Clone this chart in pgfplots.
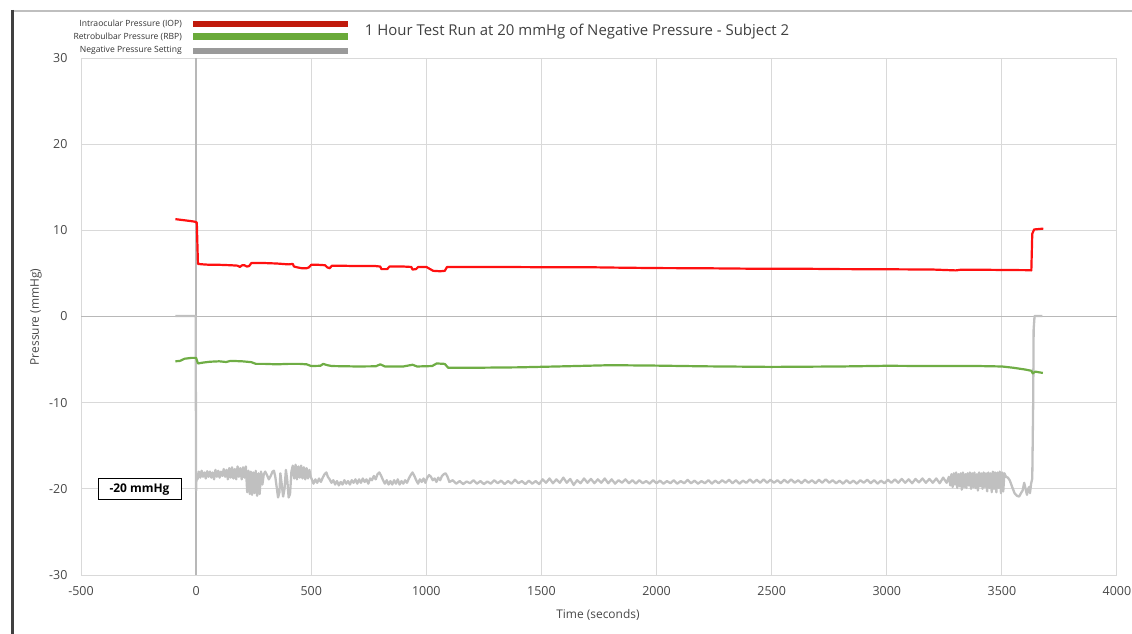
\documentclass[border=0pt]{standalone}
\usepackage{pgfplots}
\pgfplotsset{compat=1.18}
\usepackage{fontspec}
\setmainfont{Open Sans}
\definecolor{iop}{HTML}{FF1010}
\definecolor{rbp}{HTML}{6FAD45}
\definecolor{nps}{HTML}{C0C0C0}
\definecolor{legiop}{HTML}{C01A0C}
\definecolor{legrbp}{HTML}{6AAA3A}
\definecolor{legnps}{HTML}{9A9A9A}
\definecolor{ticktxt}{HTML}{474747}
\begin{document}
\begin{tikzpicture}
\path[use as bounding box] (0,0) rectangle (1132bp,634bp);
\begin{axis}[
  at={(81bp,59bp)}, anchor=south west,
  scale only axis, width=1036bp, height=517bp,
  xmin=-500, xmax=4000, ymin=-30, ymax=30,
  xtick={-500,0,...,4000}, ytick={-30,-20,...,30},
  grid=major, major grid style={draw=black!15, line width=1bp},
  axis line style={draw=none}, major tick length=0pt,
  /pgf/number format/assume math mode=true,
  /pgf/number format/1000 sep={},
  ticklabel style={font=\fontsize{12.5}{14}\selectfont, text=ticktxt},
  xticklabel style={yshift=-8bp},
  yticklabel style={xshift=-10bp},
  xlabel={Time (seconds)}, ylabel={Pressure (mmHg)},
  xlabel style={at={(axis description cs:0.499,-0.0774)}, anchor=center, font=\fontsize{12}{14}\selectfont, text=ticktxt},
  ylabel style={at={(axis description cs:-0.0434,0.499)}, anchor=center, rotate=0, font=\fontsize{12}{14}\selectfont, text=ticktxt},
  clip=false,
]
% axis lines at 0
\addplot[draw=black!28, line width=1.3bp, forget plot] coordinates {(-500,0) (4000,0)};
\addplot[draw=black!28, line width=1.3bp, forget plot] coordinates {(0,-30) (0,30)};
% Negative pressure setting
\addplot[nps, line width=2.3bp, line join=round] coordinates {
(-90,0.05) (-60,0.05) (-30,0.05) (-2,0.05) (0,-20.2) (2,-18.2)
(6,-18.9) (12,-18.0) (18,-18.7) (24,-17.9) (30,-18.6) (36,-18.1) (42,-18.8) (48,-17.95) (54,-18.6) (60,-18.0) (66,-18.7) (72,-18.1) (78,-18.9) (84,-17.8) (90,-18.6) (96,-17.9) (102,-18.7) (108,-18.0) (114,-18.5) (120,-17.7) (126,-18.6) (132,-17.8) (138,-18.9) (144,-17.6) (150,-18.7) (156,-17.5) (162,-18.8) (168,-17.7) (174,-18.9) (180,-17.4) (186,-18.6) (192,-17.6) (198,-18.9) (204,-17.5) (210,-18.7) (216,-17.4)
(222,-20.4) (227,-17.9) (233,-20.6) (238,-18.0) (243,-20.7) (249,-18.1) (254,-20.5) (259,-17.9) (265,-20.8) (271,-18.2) (276,-20.6) (282,-18.0) (288,-19.5) (294,-18.3) (300,-18.0) (308,-18.4) (316,-18.9) (324,-18.5) (332,-18.0) (338,-17.9) (344,-18.6) (350,-19.8) (356,-21.0) (362,-20.4) (366,-18.2) (372,-19.5) (378,-20.9) (384,-20.0) (390,-17.8) (396,-19.0) (402,-21.0) (408,-20.6) (414,-18.0) (420,-17.3) (426,-18.8) (432,-17.2) (438,-18.9) (444,-17.4) (450,-18.7) (456,-17.3) (462,-18.8) (468,-17.5) (474,-18.9) (480,-17.6) (486,-18.8) (492,-17.8) (498,-18.6)
(504,-19.0) (510,-19.4) (518,-18.9) (526,-19.3) (534,-18.8) (542,-19.2) (550,-18.7) (558,-18.3) (566,-18.1) (572,-18.6) (580,-18.9) (588,-19.3) (596,-19.0) (604,-19.5) (612,-19.1) (620,-19.6) (628,-19.2) (636,-19.5) (644,-19.0) (652,-19.4) (660,-19.1) (668,-19.5) (676,-19.0) (684,-19.3) (692,-18.9) (700,-19.4) (708,-18.9) (716,-19.3) (724,-18.8) (732,-19.2) (740,-18.9) (748,-19.4) (756,-18.8) (764,-19.0) (772,-18.5) (780,-18.9) (788,-18.3) (796,-18.1) (804,-18.5) (812,-19.0) (820,-19.4) (828,-19.0) (836,-19.5) (844,-19.1) (852,-19.5) (860,-19.0) (868,-19.4) (876,-18.9) (884,-19.5) (892,-19.1) (900,-19.4) (908,-19.0) (916,-19.3) (924,-18.8) (932,-18.4) (940,-18.1) (948,-18.5) (956,-19.0) (964,-19.4) (972,-18.9) (980,-19.2) (988,-18.8) (996,-19.3) (1004,-18.7) (1012,-18.4) (1020,-18.6) (1028,-19.0) (1036,-18.8) (1044,-19.2) (1052,-18.7) (1060,-19.0) (1068,-18.5) (1076,-18.3) (1084,-18.2) (1092,-18.6) (1100,-19.2)
(1115,-19.0) (1130,-19.4) (1145,-19.1) (1160,-19.45) (1175,-19.15) (1190,-19.35) (1205,-19.0) (1220,-19.4) (1235,-19.1) (1250,-19.45) (1265,-19.15) (1280,-19.4) (1295,-19.0) (1310,-19.35) (1325,-19.05) (1340,-19.45) (1355,-19.1) (1370,-19.4) (1385,-18.95) (1400,-19.35) (1415,-19.1) (1430,-19.45) (1445,-19.05) (1460,-19.4) (1475,-19.1) (1490,-19.45) (1505,-18.9) (1520,-19.3) (1535,-18.8) (1550,-19.35) (1565,-18.9) (1580,-19.3) (1595,-18.7) (1610,-19.3) (1625,-18.85) (1640,-19.55) (1655,-19.0) (1670,-19.35) (1685,-18.8) (1700,-19.3) (1715,-18.85) (1730,-19.35) (1745,-18.9) (1760,-19.3) (1775,-18.8) (1790,-19.35) (1805,-18.9) (1820,-19.4) (1835,-19.0) (1850,-19.3) (1865,-18.9) (1880,-19.35) (1895,-19.0) (1910,-19.4) (1925,-19.0) (1940,-19.35) (1955,-19.1) (1970,-19.4) (1985,-19.0) (2000,-19.35) (2015,-19.05) (2030,-19.4) (2045,-19.1) (2060,-19.35) (2075,-19.0) (2090,-19.4) (2105,-19.1) (2120,-19.35) (2135,-18.95) (2150,-19.35) (2165,-19.05) (2180,-19.4) (2195,-19.1) (2210,-19.35) (2225,-19.0) (2240,-19.4) (2255,-19.05) (2270,-19.35) (2285,-19.0) (2300,-19.3) (2315,-18.95) (2330,-19.35) (2345,-19.0) (2360,-19.4) (2375,-19.05) (2390,-19.3) (2405,-18.9) (2420,-19.3) (2435,-18.95) (2450,-19.3) (2465,-18.9) (2480,-19.3) (2495,-18.95) (2510,-19.3) (2525,-19.0) (2540,-19.35) (2555,-18.95) (2570,-19.3) (2585,-18.9) (2600,-19.3) (2615,-19.0) (2630,-19.35) (2645,-18.95) (2660,-19.3) (2675,-19.0) (2690,-19.35) (2705,-18.95) (2720,-19.3) (2735,-18.9) (2750,-19.3) (2765,-19.0) (2780,-19.35) (2795,-19.05) (2810,-19.4) (2825,-19.0) (2840,-19.35) (2855,-19.05) (2870,-19.4) (2885,-19.0) (2900,-19.3) (2915,-18.95) (2930,-19.35) (2945,-19.0) (2960,-19.4) (2975,-19.05) (2990,-19.35) (3005,-18.95) (3020,-19.3) (3035,-18.9) (3050,-19.3) (3065,-18.85) (3080,-19.3) (3095,-18.9) (3110,-19.35) (3125,-18.85) (3140,-19.25) (3155,-18.8) (3170,-19.3) (3185,-18.85) (3200,-19.3) (3215,-18.8) (3230,-19.35) (3245,-18.7) (3260,-19.3) (3270,-18.6)
(3276,-19.6) (3281,-18.3) (3286,-19.8) (3291,-18.2) (3296,-19.5) (3301,-18.1) (3306,-19.9) (3311,-18.3) (3316,-19.7) (3321,-18.2) (3326,-20.1) (3331,-18.1) (3336,-19.8) (3341,-18.3) (3346,-19.9) (3351,-18.2) (3356,-19.6) (3361,-18.1) (3366,-20.0) (3371,-18.2) (3376,-19.8) (3381,-18.1) (3386,-19.9) (3391,-18.3) (3396,-20.2) (3401,-18.1) (3406,-19.7) (3411,-18.2) (3416,-20.0) (3421,-18.1) (3426,-19.8) (3431,-18.2) (3436,-20.3) (3441,-18.1) (3446,-19.9) (3451,-18.2) (3456,-20.4) (3461,-18.0) (3466,-20.0) (3471,-18.1) (3476,-20.4) (3481,-18.1) (3486,-19.9) (3491,-18.0) (3496,-20.5) (3501,-18.1) (3506,-20.3) (3511,-18.2)
(3518,-18.6) (3526,-18.7) (3534,-19.0) (3545,-19.8) (3555,-20.5) (3565,-20.8) (3575,-20.9) (3583,-20.5) (3590,-20.2) (3597,-19.3) (3603,-20.0) (3609,-20.7) (3614,-20.0) (3618,-19.8) (3622,-20.5) (3627,-19.4) (3632,-18.8) (3636,-10) (3638,-1.5) (3642,0.05) (3676,0.05)
};
% Retrobulbar pressure
\addplot[rbp, line width=2.2bp, line join=round] coordinates {
(-90,-5.2) (-70,-5.15) (-50,-4.9) (-20,-4.8) (0,-4.8) (8,-5.45) (30,-5.35) (60,-5.25) (100,-5.2) (130,-5.28) (150,-5.15) (200,-5.2) (240,-5.3) (260,-5.5) (300,-5.5) (350,-5.55) (400,-5.5) (450,-5.5) (480,-5.55) (500,-5.75) (540,-5.72) (552,-5.5) (570,-5.65) (590,-5.75) (700,-5.8) (780,-5.78) (800,-5.55) (820,-5.8) (900,-5.8) (940,-5.6) (960,-5.8) (1025,-5.75) (1045,-5.45) (1080,-5.5) (1095,-5.95) (1200,-5.95) (1400,-5.9) (1600,-5.78) (1800,-5.65) (2000,-5.7) (2200,-5.78) (2500,-5.85) (2800,-5.8) (3000,-5.72) (3200,-5.75) (3400,-5.75) (3500,-5.8) (3550,-5.95) (3600,-6.15) (3628,-6.3) (3634,-6.6) (3645,-6.4) (3678,-6.55)
};
% Intraocular pressure
\addplot[iop, line width=2.2bp, line join=round] coordinates {
(-90,11.3) (-60,11.2) (-30,11.1) (-5,11.0) (3,10.9) (8,6.1) (30,6.05) (60,6.0) (100,6.0) (150,5.95) (180,5.9) (190,5.75) (200,5.95) (210,5.95) (220,5.8) (230,5.85) (240,6.2) (260,6.2) (300,6.2) (350,6.15) (400,6.05) (420,6.1) (425,5.8) (440,5.7) (460,5.6) (480,5.6) (490,5.7) (500,6.0) (530,6.0) (560,5.95) (570,5.7) (580,5.6) (590,5.9) (620,5.9) (700,5.85) (780,5.85) (800,5.8) (805,5.5) (830,5.5) (840,5.8) (900,5.8) (935,5.75) (940,5.45) (955,5.5) (965,5.75) (1000,5.75) (1010,5.6) (1030,5.3) (1060,5.25) (1080,5.3) (1090,5.75) (1100,5.75) (1300,5.75) (1500,5.72) (1700,5.72) (1800,5.68) (2000,5.62) (2200,5.6) (2400,5.55) (2600,5.55) (2800,5.5) (3000,5.48) (3200,5.45) (3300,5.35) (3320,5.42) (3400,5.43) (3500,5.4) (3600,5.38) (3628,5.35) (3632,9.6) (3640,10.1) (3660,10.15) (3680,10.2)
};
\end{axis}
% frame
\draw[black!25, line width=1.5bp] (12bp,623bp) -- (1132bp,623bp);
\draw[black!75, line width=2.6bp] (12.5bp,624bp) -- (12.5bp,0bp);
% title
\node[font=\fontsize{15}{18}\selectfont, text=black!75] at (577bp,602bp) {1 Hour Test Run at 20 mmHg of Negative Pressure - Subject 2};
% legend
\begin{scope}[every node/.style={font=\fontsize{8.6}{10}\selectfont, text=black!80, anchor=east, inner sep=0pt}]
\node at (182bp,609.7bp) {Intraocular Pressure (IOP)};
\node at (182bp,597.5bp) {Retrobulbar Pressure (RBP)};
\node at (182bp,584bp) {Negative Pressure Setting};
\end{scope}
\fill[legiop] (193.3bp,606.7bp) rectangle (348.3bp,613.3bp);
\fill[legrbp] (193.3bp,594bp) rectangle (348.3bp,600.7bp);
\fill[legnps] (193.3bp,579.7bp) rectangle (348.3bp,586.3bp);
% annotation box
\draw[black, line width=1bp, fill=white] (98bp,134bp) rectangle (181bp,155bp);
\node[font=\fontsize{12}{14}\selectfont\bfseries] at (139.5bp,144.5bp) {-20 mmHg};
\end{tikzpicture}
\end{document}
